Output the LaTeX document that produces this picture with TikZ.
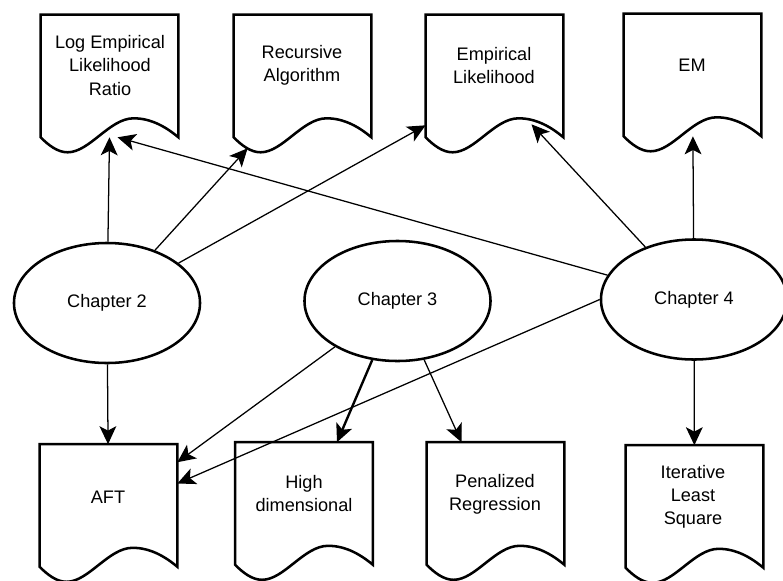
\documentclass[tikz,border=0pt]{standalone}
\usepackage{fontspec}
\setmainfont{Liberation Sans}
\usetikzlibrary{shapes.geometric, arrows.meta, calc}

\begin{document}
\begin{tikzpicture}[x=0.025cm, y=-0.025cm, font=\fontsize{12.9pt}{16.4pt}\selectfont]
		\tikzset{doc/.style={rectangle, minimum width=3.43cm, minimum height=3.05cm, inner sep=0pt}}
		\tikzset{docline/.style={line width=1.8pt, line join=miter}}
		\tikzset{txt/.style={align=center, inner sep=0pt}}
		\tikzset{chapter/.style={draw, ellipse, line width=1.8pt, minimum width=4.65cm, minimum height=3cm, inner sep=0pt}}
		\tikzset{edge/.style={-{Stealth[length=0.45cm, width=0.42cm, inset=0.11cm]}, line width=0.9pt}}
		
		\useasboundingbox (0,0) rectangle (783,580);
		
		% chapters
		\node(ch2) at (107,303) [chapter] {Chapter 2};
		\node(ch3) at (397.5,301) [chapter] {Chapter 3};
		\node(ch4) at (694,299.5) [chapter] {Chapter 4};
		
		% top row
		\node(d_lelr) at (109.5,76) [doc] {};
		\node(d_rec) at (302.5,76) [doc] {};
		\node(d_el) at (494.5,76) [doc] {};
		\node(d_em) at (692.5,75) [doc] {};
		
		% bottom row
		\node(d_aft) at (108.5,505.5) [doc] {};
		\node(d_hd) at (304,503.5) [doc] {};
		\node(d_pr) at (495.5,503.5) [doc] {};
		\node(d_ils) at (694.5,506.5) [doc] {};
		
		\foreach \d in {d_lelr, d_rec, d_el, d_em, d_aft, d_hd, d_pr, d_ils}
			\draw[docline] (\d.south east) -- (\d.north east) -- (\d.north west) -- (\d.south west)
				.. controls +(8,8) and +(-10,0) .. ++(27,15)
				.. controls +(22,0) and +(-24,0) .. ++(66,-34)
				.. controls +(18,0) and +(-12,-10) .. (\d.south east) -- cycle;
		
		\node(t_lelr) at (110,65.5) [txt] {Log Empirical\\Likelihood\\Ratio};
		\node(t_rec) at (302,65.5) [txt] {Recursive\\Algorithm};
		\node(t_el) at (494,65.5) [txt] {Empirical\\Likelihood};
		\node(t_em) at (692,65.5) [txt] {EM};
		\node(t_aft) at (108,497) [txt] {AFT};
		\node(t_hd) at (304,493.5) [txt] {High\\dimensional};
		\node(t_pr) at (495,494) [txt] {Penalized\\Regression};
		\node(t_ils) at (693,496.5) [txt] {Iterative\\Least\\Square};
		
		\draw[edge] (ch2) -- (d_lelr.south);
		\draw[edge] (ch2) -- ($(d_rec.south west)+(14,11)$);
		\draw[edge] (ch2) -- ($(d_el.south west)+(0,-12)$);
		\draw[edge] (ch2) -- (d_aft);
		
		\draw[edge] (ch3) -- ($(d_aft.north east)+(0,18)$);
		\draw[edge, line width=1.7pt] (ch3) -- ($(d_hd.north)+(33,0)$);
		\draw[edge] (ch3) -- ($(d_pr.north)+(-34,0)$);
		
		\draw[edge] (ch4) -- ($(d_lelr.south)+(8,0)$);
		\draw[edge] (ch4) -- ($(d_el.south)+(37,-13)$);
		\draw[edge] (ch4) -- (d_em);
		\draw[edge] (ch4.west) -- ($(d_aft.east)+(0,-22)$);
		\draw[edge] (ch4) -- (d_ils);
\end{tikzpicture}
\end{document}
